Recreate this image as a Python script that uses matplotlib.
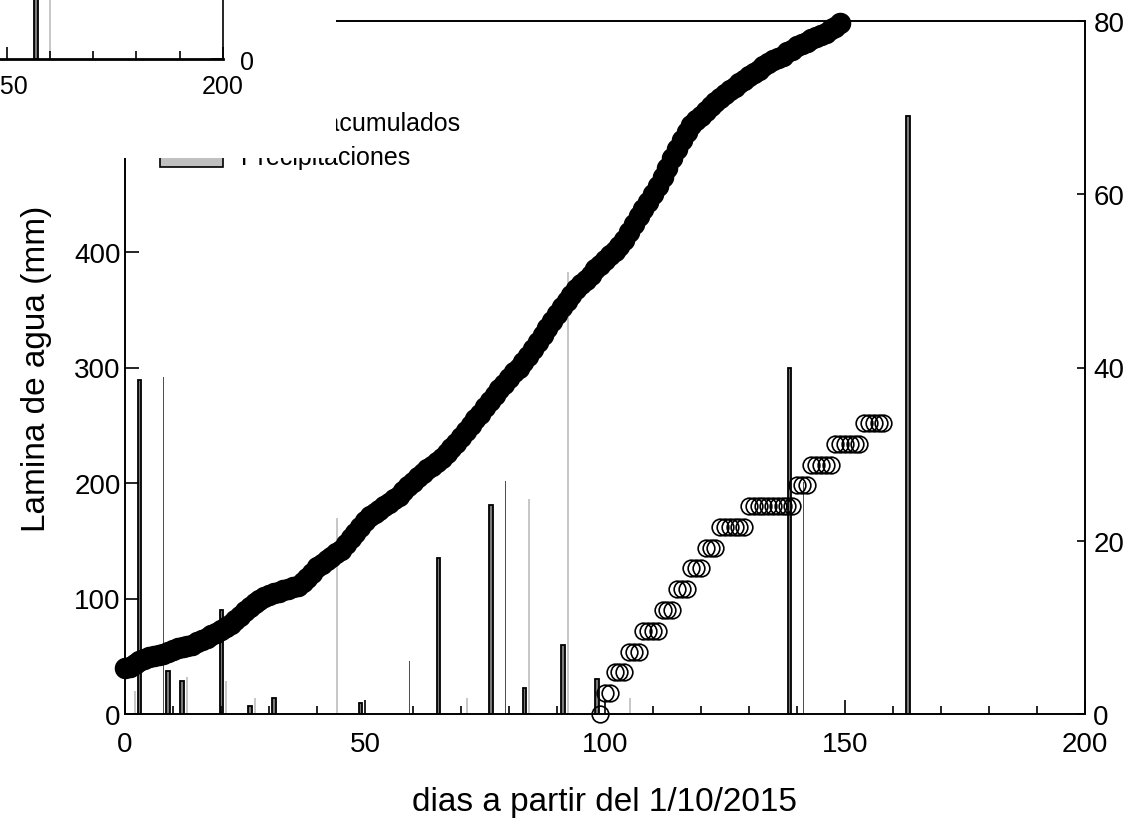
import matplotlib
matplotlib.use("AGG")
import numpy as np
import matplotlib.pyplot as plt
from matplotlib.patches import Rectangle
from matplotlib.lines import Line2D
from matplotlib.patches import Patch

plt.rcParams['font.family'] = ['Liberation Sans', 'DejaVu Sans']

### cumulative water (filled circles), one value per day, mm ###
etc_days = np.arange(0, 150)
etc_acum = [40, 41, 43, 46, 48, 49, 50, 51, 52, 54,
            55, 57, 58, 59, 60, 62, 64, 66, 68, 70,
            73, 75, 78, 81, 85, 89, 93, 96, 99, 101,
            103, 105, 106, 107, 108, 110, 111, 114, 118, 122,
            127, 130, 133, 136, 139, 142, 147, 152, 157, 162,
            167, 171, 174, 177, 180, 183, 186, 189, 193, 197,
            201, 205, 209, 212, 215, 218, 222, 226, 230, 235,
            240, 245, 250, 255, 260, 266, 271, 276, 281, 286,
            291, 296, 300, 305, 310, 316, 322, 328, 334, 340,
            346, 352, 358, 363, 368, 372, 376, 380, 385, 389,
            393, 397, 401, 405, 410, 417, 424, 431, 437, 443,
            450, 457, 465, 473, 481, 489, 497, 504, 510, 514,
            518, 522, 526, 530, 533, 537, 540, 543, 546, 549,
            552, 555, 558, 561, 564, 566, 568, 570, 573, 575,
            578, 580, 582, 584, 586, 588, 590, 593, 595, 598]

### irrigation accumulated (open circles), mm ###
riego_days = np.arange(99, 159)
riego_acum = [0,
              18, 18,
              36, 36, 36,
              54, 54, 54,
              72, 72, 72, 72,
              90, 90, 90,
              108, 108, 108,
              126, 126, 126,
              144, 144, 144,
              162, 162, 162, 162, 162, 162,
              180, 180, 180, 180, 180, 180, 180, 180, 180, 180,
              198, 198, 198,
              216, 216, 216, 216, 216,
              234, 234, 234, 234, 234, 234,
              252, 252, 252, 252, 252]

### daily bars (right axis, mm) ###
pp_days = [3.0, 9.0, 11.9, 20.1, 26.0, 31.0, 49.1, 65.3, 76.2, 83.2, 91.2, 98.3, 138.4, 163.1]
pp_mm = [38.6, 5.0, 3.85, 12.0, 0.9, 1.8, 1.3, 18.0, 24.1, 3.0, 8.0, 4.0, 40.0, 69.0]

dark_days = [8.0, 59.2, 79.2, 141.3]
dark_mm = [38.9, 6.1, 26.9, 26.8]

light_days = [2.1, 13.0, 21.0, 27.1, 44.2, 71.2, 84.2, 92.3, 105.3]
light_mm = [2.7, 4.3, 3.8, 1.8, 22.6, 1.8, 24.8, 51.0, 1.8]

### the other chart lying over the top-left corner ###
inset_pp_days = [156.8]
inset_pp_mm = [60.0]
inset_light_days = [160.0]
inset_light_mm = [60.0]

W, H = 1137, 820
fig = plt.figure(figsize=(W / 100, H / 100), dpi=100)

def px_box(x0, y_top, x1, y_bot):
    return [x0 / W, 1 - y_bot / H, (x1 - x0) / W, (y_bot - y_top) / H]

ax = fig.add_axes(px_box(125, 22, 1085, 715))
ax2 = ax.twinx()

ax2.bar(light_days, light_mm, width=0.4, color="#c8c8c8", linewidth=0)
ax2.bar(dark_days, dark_mm, width=0.25, color="#505050", linewidth=0)
ax2.bar(pp_days, pp_mm, width=0.75, color="#7a7a7a", edgecolor="black", linewidth=1.3)

ax.set_zorder(ax2.get_zorder() + 1)
ax.patch.set_visible(False)
ax.plot(etc_days, etc_acum, "o", color="black", markersize=14.5, clip_on=False)
ax.plot(riego_days, riego_acum, "o", mfc="none", mec="black", markersize=12, mew=1.2,
        clip_on=False)

ax.set_xlim(0, 200)
ax.set_ylim(0, 600)
ax2.set_ylim(0, 80)
ax.set_xticks([0, 50, 100, 150, 200])
ax.set_xticks(np.arange(0, 201, 10), minor=True)
ax.set_yticks([0, 100, 200, 300, 400, 500])
ax2.set_yticks([0, 20, 40, 60, 80])
ax.tick_params(axis="both", which="major", direction="in", length=10, width=1.2,
               labelsize=20)
ax.tick_params(axis="x", which="major", pad=12)
ax.tick_params(axis="y", which="major", pad=3)
ax.tick_params(axis="x", which="minor", direction="in", length=6, width=1.2)
ax2.tick_params(axis="y", direction="in", length=6, width=1.2, labelsize=20, pad=6)
for a in (ax, ax2):
    for s in a.spines.values():
        s.set_linewidth(1.2)

ax.set_xlabel("dias a partir del 1/10/2015", fontsize=24, labelpad=21)
ax.set_ylabel("Lamina de agua (mm)", fontsize=24, labelpad=16)

handles = [Line2D([], [], marker="o", ls="none", mfc="none", mec="black", markersize=12),
           Patch(facecolor="#c0c0c0", edgecolor="black", linewidth=1.2)]
ax.legend(handles, ["Riegos acumulados", "Precipitaciones"], loc="upper left",
          bbox_to_anchor=(160 / W, 1 - 111 / H), bbox_transform=fig.transFigure,
          frameon=False, fontsize=18, handlelength=2.5, handleheight=1.0,
          handletextpad=0.75, labelspacing=0.4, borderpad=0, borderaxespad=0)

### white sheet of the overlapping chart ###
fig.add_artist(Rectangle((0, 1 - 159 / H), 336 / W, 159 / H, transform=fig.transFigure,
                         facecolor="white", edgecolor="none", zorder=5))

inset = fig.add_axes([-643 / W, 1 - 60 / H, 866 / W, 624 / H], zorder=6)
inset.patch.set_visible(False)
inset.bar(inset_light_days, inset_light_mm, width=0.4, color="#c8c8c8", linewidth=0)
inset.bar(inset_pp_days, inset_pp_mm, width=0.75, color="#7a7a7a", edgecolor="black",
          linewidth=1.3)
inset.set_xlim(0, 200)
inset.set_ylim(0, 80)
inset.set_xticks([0, 50, 100, 150, 200])
inset.set_xticks(np.arange(0, 201, 10), minor=True)
inset.yaxis.tick_right()
inset.set_yticks([0, 20, 40, 60, 80])
inset.tick_params(axis="both", which="major", direction="in", length=9, width=1.2,
                  labelsize=18)
inset.tick_params(axis="x", which="major", pad=11)
inset.tick_params(axis="y", which="major", pad=12)
inset.tick_params(axis="x", which="minor", direction="in", length=6, width=1.2)
inset.spines["left"].set_visible(False)
inset.spines["top"].set_visible(False)
inset.spines["bottom"].set_linewidth(2.0)
inset.spines["right"].set_linewidth(1.2)

fig.savefig("out.png", dpi=100)
